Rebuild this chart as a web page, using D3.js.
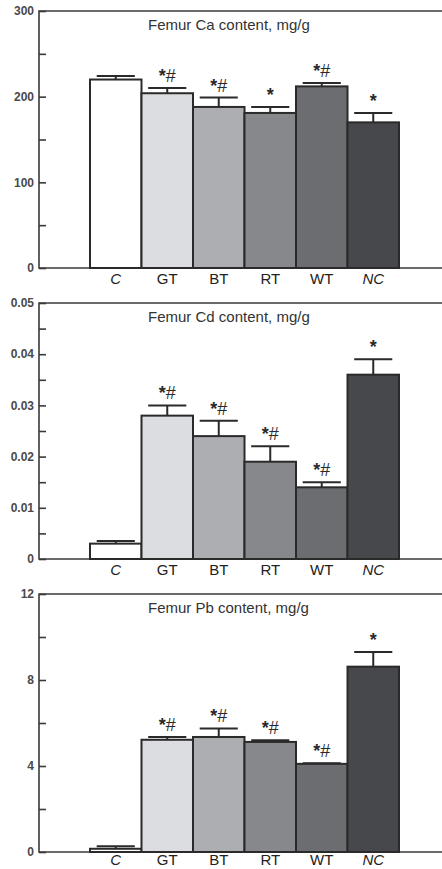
<!DOCTYPE html>
<html>
<head>
<meta charset="utf-8">
<script src="https://cdn.jsdelivr.net/npm/d3@7"></script>
<style>
  body { margin: 0; background: #fff; }
  svg { display: block; font-family: "Liberation Sans", Arial, sans-serif; }
</style>
</head>
<body>
<svg id="chart" width="442" height="869"></svg>
<script>
var groups = ["C", "GT", "BT", "RT", "WT", "NC"];
var italicGroups = ["C", "NC"];
var fills = ["#ffffff", "#dcdde0", "#adaeb2", "#87888c", "#6c6d71", "#47484b"];

var caMean = [220, 204, 188, 181, 212, 170];
var caErr = [224, 210, 199, 188, 216, 181];
var caMarks = ["", "*#", "*#", "*", "*#", "*"];

var cdMean = [0.003, 0.028, 0.024, 0.019, 0.014, 0.036];
var cdErr = [0.0035, 0.030, 0.027, 0.022, 0.015, 0.039];
var cdMarks = ["", "*#", "*#", "*#", "*#", "*"];

var pbMean = [0.15, 5.22, 5.35, 5.12, 4.1, 8.62];
var pbErr = [0.27, 5.35, 5.75, 5.2, 4.13, 9.3];
var pbMarks = ["", "*#", "*#", "*#", "*#", "*"];

var panels = [
  {title: "Femur Ca content, mg/g", mean: caMean, err: caErr, marks: caMarks,
   max: 300, major: [0, 100, 200, 300], minor: [50, 150, 250], fmt: d3.format("d"),
   top: 11, bottom: 268},
  {title: "Femur Cd content, mg/g", mean: cdMean, err: cdErr, marks: cdMarks,
   max: 0.05, major: [0, 0.01, 0.02, 0.03, 0.04, 0.05], minor: [0.005, 0.015, 0.025, 0.035, 0.045],
   fmt: function(d) { return d === 0 ? "0" : d3.format(".2f")(d); },
   top: 303, bottom: 559},
  {title: "Femur Pb content, mg/g", mean: pbMean, err: pbErr, marks: pbMarks,
   max: 12, major: [0, 4, 8, 12], minor: [2, 6, 10], fmt: d3.format("d"),
   top: 594, bottom: 852}
];

var svg = d3.select("#chart");
var left = 39, right = 442;
var ink = "#3a3a3a";

var x = d3.scaleBand().domain(groups).range([90, 399]).padding(0);

panels.forEach(function(p) {
  var y = d3.scaleLinear().domain([0, p.max]).range([p.bottom, p.top]);
  var g = svg.append("g");

  /* frame: left, top and bottom lines */
  g.append("path")
    .attr("d", `M${right},${p.top}H${left}V${p.bottom}H${right}`)
    .attr("fill", "none").attr("stroke", ink).attr("stroke-width", 1.6);

  /* major and minor ticks pointing into the plot */
  var yAxis = d3.axisRight(y).tickValues(p.major.concat(p.minor)).tickSize(7).tickFormat("");
  g.append("g").attr("transform", `translate(${left},0)`).call(yAxis)
    .call(function(a) {
      a.select(".domain").remove();
      a.selectAll("line").attr("stroke", ink).attr("stroke-width", 1.6);
    });

  g.selectAll(".ylab").data(p.major).enter().append("text")
    .attr("x", left - 5).attr("y", function(d) { return y(d); })
    .attr("dy", "0.35em").attr("text-anchor", "end")
    .attr("font-size", 12).attr("font-weight", "bold").attr("fill", "#4a4a4a")
    .text(p.fmt);

  /* error bars */
  var cap = x.bandwidth() * 0.37;
  g.selectAll(".err").data(groups).enter().append("path")
    .attr("d", function(d, i) {
      var cx = x(d) + x.bandwidth() / 2;
      return `M${cx},${y(p.mean[i])}V${y(p.err[i])}M${cx - cap},${y(p.err[i])}H${cx + cap}`;
    })
    .attr("fill", "none").attr("stroke", "#2a2a2a").attr("stroke-width", 2);

  /* bars */
  g.selectAll(".bar").data(groups).enter().append("rect")
    .attr("x", function(d) { return x(d); })
    .attr("y", function(d, i) { return y(p.mean[i]); })
    .attr("width", x.bandwidth())
    .attr("height", function(d, i) { return y(0) - y(p.mean[i]); })
    .attr("fill", function(d, i) { return fills[i]; })
    .attr("stroke", "#2a2a2a").attr("stroke-width", 2);

  /* significance marks: bold star, plain hash */
  var marks = g.selectAll(".mark").data(groups).enter().append("text")
    .attr("x", function(d) { return x(d) + x.bandwidth() / 2; })
    .attr("y", function(d, i) { return y(p.err[i]) - 6; })
    .attr("text-anchor", "middle").attr("font-size", 18).attr("fill", "#2a2a2a");
  marks.each(function(d, i) {
    var m = p.marks[i], t = d3.select(this);
    if (!m) return;
    t.append("tspan").attr("font-weight", "bold").text(m.charAt(0));
    if (m.length > 1) t.append("tspan").text(m.slice(1));
  });

  /* category labels */
  g.selectAll(".xlab").data(groups).enter().append("text")
    .attr("x", function(d) { return x(d) + x.bandwidth() / 2; })
    .attr("y", Math.min(p.bottom + 16, 865))
    .attr("text-anchor", "middle").attr("font-size", 15).attr("fill", "#222")
    .attr("font-style", function(d) { return italicGroups.indexOf(d) >= 0 ? "italic" : "normal"; })
    .text(function(d) { return d; });

  g.append("text")
    .attr("x", 148).attr("y", p.top + 19)
    .attr("font-size", 15).attr("fill", "#333")
    .text(p.title);
});
</script>
</body>
</html>
